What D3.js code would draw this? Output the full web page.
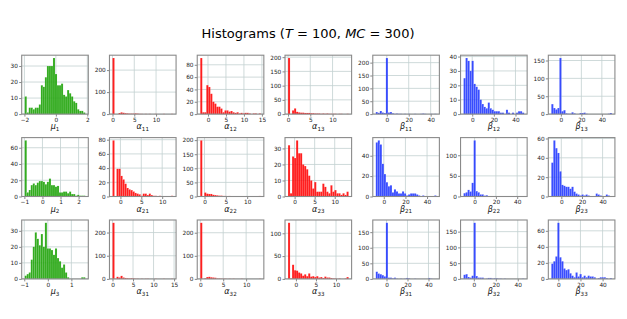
<!DOCTYPE html>
<html>
<head>
<meta charset="utf-8">
<script src="https://cdn.jsdelivr.net/npm/d3@7/dist/d3.min.js"></script>
<style>
  body { margin: 0; background: #fff; }
  text { font-family: "DejaVu Sans", sans-serif; }
</style>
</head>
<body>
<div id="chart"></div>
<script>
// bin counts, 30 equal bins per histogram
const mu1  = [11, 1, 4, 4, 3, 4, 4, 6, 18, 17, 23, 30, 30, 30, 35, 25, 18, 18, 19, 12, 11, 15, 13, 11, 8, 7, 3, 2, 2, 1];
const a11  = [255, 0, 0, 5, 8, 6, 4, 3, 2, 2, 2, 3, 2, 1, 1, 0, 1, 0, 1, 0, 0, 1, 0, 0, 0, 1, 0, 0, 0, 1];
const a12  = [91, 3, 3, 47, 44, 33, 20, 17, 12, 12, 9, 3, 6, 6, 4, 5, 3, 2, 3, 1, 2, 1, 2, 2, 1, 0, 1, 1, 0, 1];
const a13  = [197, 0, 13, 20, 8, 6, 5, 5, 4, 4, 4, 3, 3, 2, 2, 2, 1, 2, 1, 2, 1, 1, 1, 1, 0, 1, 1, 0, 0, 1];
const b11  = [8, 5, 12, 6, 4, 218, 6, 8, 3, 1, 2, 1, 1, 0, 1, 0, 1, 0, 0, 1, 0, 0, 1, 2, 1, 0, 0, 1, 0, 1];
const b12  = [25, 39, 37, 30, 37, 21, 19, 17, 10, 7, 5, 4, 8, 4, 3, 2, 2, 2, 1, 1, 0, 3, 1, 0, 1, 0, 1, 2, 2, 1];
const b13  = [28, 17, 13, 17, 157, 8, 11, 2, 1, 1, 5, 2, 0, 0, 3, 3, 4, 1, 0, 0, 0, 0, 0, 0, 0, 0, 0, 0, 1, 3];

const mu2  = [69, 5, 8, 14, 16, 14, 17, 19, 19, 18, 15, 18, 22, 14, 14, 12, 13, 5, 5, 6, 6, 4, 6, 3, 3, 1, 2, 1, 1, 1];
const a21  = [79, 0, 39, 39, 29, 24, 18, 12, 10, 9, 7, 5, 4, 3, 1, 4, 4, 2, 4, 2, 1, 1, 0, 1, 0, 0, 0, 0, 0, 1];
const a22  = [199, 0, 14, 10, 9, 9, 6, 5, 4, 3, 3, 2, 2, 1, 2, 1, 0, 1, 0, 0, 1, 0, 0, 0, 0, 1, 0, 0, 0, 2];
const a23  = [32, 2, 25, 24, 35, 27, 27, 20, 19, 17, 13, 10, 5, 9, 3, 3, 3, 8, 6, 3, 2, 7, 3, 4, 2, 2, 1, 2, 1, 3];
const b21  = [53, 55, 51, 32, 22, 14, 10, 11, 4, 7, 5, 3, 3, 5, 3, 1, 2, 3, 3, 3, 2, 1, 0, 1, 0, 0, 0, 0, 0, 1];
const b22  = [8, 10, 16, 12, 33, 136, 13, 10, 5, 5, 2, 3, 1, 0, 0, 0, 1, 0, 1, 1, 0, 1, 0, 1, 0, 0, 0, 0, 0, 1];
const b23  = [35, 58, 50, 45, 26, 12, 11, 10, 10, 8, 10, 5, 3, 2, 1, 2, 1, 2, 1, 0, 0, 0, 3, 2, 1, 0, 0, 2, 1, 0];

const mu3  = [2, 3, 4, 12, 20, 29, 25, 21, 28, 20, 35, 19, 19, 18, 15, 19, 13, 11, 7, 9, 4, 1, 0, 0, 0, 0, 0, 0, 1, 1];
const a31  = [242, 0, 9, 6, 13, 6, 4, 3, 2, 3, 2, 1, 1, 0, 1, 0, 1, 1, 0, 0, 0, 1, 0, 0, 0, 1, 0, 0, 0, 1];
const a32  = [243, 0, 3, 8, 9, 7, 6, 5, 2, 2, 1, 1, 1, 0, 1, 0, 1, 0, 0, 0, 1, 0, 0, 0, 0, 0, 0, 0, 0, 1];
const a33  = [123, 1, 31, 19, 18, 14, 12, 7, 10, 6, 12, 5, 6, 4, 6, 3, 4, 2, 5, 3, 3, 2, 1, 1, 0, 1, 0, 0, 1, 4];
const b31  = [23, 17, 15, 12, 8, 180, 4, 4, 2, 4, 1, 0, 1, 0, 1, 3, 2, 0, 0, 1, 0, 0, 0, 0, 0, 0, 3, 1, 0, 0];
const b32  = [13, 15, 6, 4, 10, 178, 9, 4, 4, 4, 0, 1, 3, 3, 1, 2, 2, 1, 1, 0, 1, 0, 0, 0, 0, 0, 0, 0, 0, 1];
const b33  = [19, 22, 28, 70, 27, 22, 13, 11, 12, 7, 4, 2, 8, 3, 6, 2, 4, 2, 4, 3, 3, 2, 0, 1, 2, 2, 2, 1, 0, 1];

// lowest / highest sample of each histogram, row by row
const row1Lo = [-1.98, 0, -2.15, 0, -10, -8, -9.3];
const row1Hi = [1.87, 13.9, 14.7, 13.6, 45.2, 48, 49.8];
const row2Lo = [-0.98, -1.9, -1.0, -1.64, -7.4, -10.3, -9.65];
const row2Hi = [2.37, 12.6, 13.2, 13.46, 48.6, 46.5, 49];
const row3Lo = [-0.98, 0, 0, -1.97, -10.2, -9.35, -6.3];
const row3Hi = [1.59, 14.75, 13.2, 13.14, 47.5, 45.8, 48.4];

const row1XTicks = [[-2, 0, 2], [0, 5, 10], [0, 5, 10, 15], [0, 5, 10], [0, 20, 40], [0, 20, 40], [0, 20, 40]];
const row2XTicks = [[-1, 0, 1, 2], [0, 5, 10], [0, 5, 10], [0, 5, 10], [0, 20, 40], [0, 20, 40], [0, 20, 40]];
const row3XTicks = [[-1, 0, 1], [0, 5, 10, 15], [0, 5, 10], [0, 5, 10], [0, 20, 40], [0, 20, 40], [0, 20, 40]];

const row1YTicks = [[0, 10, 20, 30], [0, 100, 200], [0, 20, 40, 60, 80], [0, 50, 100, 150, 200], [0, 50, 100, 150, 200], [0, 10, 20, 30, 40], [0, 50, 100, 150]];
const row2YTicks = [[0, 20, 40, 60], [0, 20, 40, 60, 80], [0, 50, 100, 150, 200], [0, 10, 20, 30], [0, 20, 40], [0, 50, 100], [0, 20, 40, 60]];
const row3YTicks = [[0, 10, 20, 30], [0, 100, 200], [0, 100, 200], [0, 50, 100], [0, 50, 100, 150], [0, 50, 100, 150], [0, 20, 40, 60]];

const symbols = ['μ', 'α', 'α', 'α', 'β', 'β', 'β'];
const colColors = ['#17a000', '#ff0000', '#ff0000', '#ff0000', '#1f35ff', '#1f35ff', '#1f35ff'];

const rows = [
  { counts: [mu1, a11, a12, a13, b11, b12, b13], lo: row1Lo, hi: row1Hi, xt: row1XTicks, yt: row1YTicks },
  { counts: [mu2, a21, a22, a23, b21, b22, b23], lo: row2Lo, hi: row2Hi, xt: row2XTicks, yt: row2YTicks },
  { counts: [mu3, a31, a32, a33, b31, b32, b33], lo: row3Lo, hi: row3Hi, xt: row3XTicks, yt: row3YTicks }
];

let width = 627,
  height = 319,
  panelW = 66.6,
  panelH = 58.9,
  colStep = 87.77,
  firstLeft = 21.7,
  rowTops = [55.2, 137.6, 220.0];

let svg = d3.select('#chart').append('svg')
  .attr('width', width)
  .attr('height', height);

let title = svg.append('text')
  .attr('x', 308)
  .attr('y', 37.5)
  .attr('text-anchor', 'middle')
  .attr('font-size', 13)
  .attr('fill', '#000');
title.append('tspan').text('Histograms (');
title.append('tspan').attr('font-style', 'italic').text('T');
title.append('tspan').text(' = 100, ');
title.append('tspan').attr('font-style', 'italic').text('MC');
title.append('tspan').text(' = 300)');

let fmt = function(d) { return d < 0 ? '\u2212' + Math.abs(d) : String(d); };

rows.forEach(function(row, r) {
  row.counts.forEach(function(counts, c) {
    let lo = row.lo[c], hi = row.hi[c];
    let pad = (hi - lo) * 0.05;
    let binW = (hi - lo) / counts.length;

    let g = svg.append('g')
      .attr('transform', 'translate(' + [firstLeft + c * colStep, rowTops[r]] + ')');

    let x = d3.scaleLinear().domain([lo - pad, hi + pad]).range([0, panelW]);
    let y = d3.scaleLinear().domain([0, d3.max(counts) * 1.05]).range([panelH, 0]);

    // grid
    g.append('g').selectAll('line')
      .data(row.xt[c])
      .enter().append('line')
      .attr('x1', function(d) { return x(d); })
      .attr('x2', function(d) { return x(d); })
      .attr('y1', 0).attr('y2', panelH)
      .attr('stroke', '#c3d1d1').attr('stroke-width', 0.8);
    g.append('g').selectAll('line')
      .data(row.yt[c])
      .enter().append('line')
      .attr('y1', function(d) { return y(d); })
      .attr('y2', function(d) { return y(d); })
      .attr('x1', 0).attr('x2', panelW)
      .attr('stroke', '#c3d1d1').attr('stroke-width', 0.8);

    // bars
    g.append('g').selectAll('rect')
      .data(counts.map(function(n, i) { return { x0: lo + i * binW, x1: lo + (i + 1) * binW, n: n }; })
        .filter(function(d) { return d.n > 0; }))
      .enter().append('rect')
      .attr('x', function(d) { return x(d.x0); })
      .attr('width', function(d) { return x(d.x1) - x(d.x0); })
      .attr('y', function(d) { return y(d.n); })
      .attr('height', function(d) { return panelH - y(d.n); })
      .attr('fill', colColors[c])
      .attr('fill-opacity', 0.88)
      .attr('stroke', '#ffffff')
      .attr('stroke-opacity', 0.35)
      .attr('stroke-width', 0.3);

    // axes
    let xAxis = g.append('g')
      .attr('transform', 'translate(0,' + panelH + ')')
      .call(d3.axisBottom(x).tickValues(row.xt[c]).tickFormat(fmt).tickSize(2.5).tickPadding(1));
    let yAxis = g.append('g')
      .call(d3.axisLeft(y).tickValues(row.yt[c]).tickFormat(fmt).tickSize(2.5).tickPadding(1.2));
    [xAxis, yAxis].forEach(function(a) {
      a.select('.domain').remove();
      a.selectAll('line').attr('stroke', '#555').attr('stroke-width', 0.7);
      a.selectAll('text')
        .attr('font-size', 5.8)
        .attr('fill', '#222')
        .style('font-family', '"DejaVu Sans", sans-serif');
    });

    // frame
    g.append('rect')
      .attr('width', panelW).attr('height', panelH)
      .attr('fill', 'none')
      .attr('stroke', '#8a8a8a')
      .attr('stroke-width', 1.1);

    // label
    let lab = g.append('text')
      .attr('x', panelW / 2)
      .attr('y', panelH + 15.3)
      .attr('text-anchor', 'middle')
      .attr('font-size', 8)
      .attr('fill', '#111');
    lab.append('tspan').attr('font-style', 'italic').text(symbols[c]);
    lab.append('tspan')
      .attr('font-size', 5.6)
      .attr('dy', 1.6)
      .text(c === 0 ? String(r + 1) : String(r + 1) + String(c < 4 ? c : c - 3));
  });
});
</script>
</body>
</html>
